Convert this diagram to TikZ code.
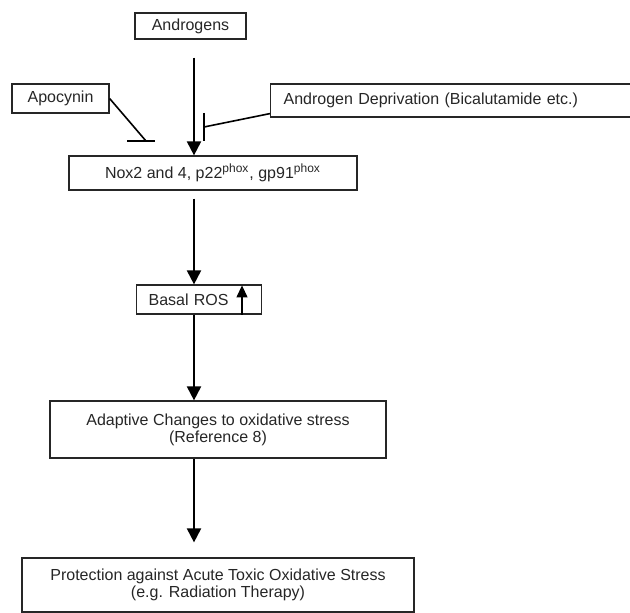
\documentclass[tikz,border=0pt]{standalone}
\usepackage{fontspec}
\setmainfont{Liberation Sans}
\usetikzlibrary{arrows.meta,calc}
\begin{document}
\begin{tikzpicture}[x=0.5pt,y=-0.5pt,
  box/.style={draw=black!85, line width=0.6pt, inner sep=0pt, font=\fontsize{8}{8.5}\selectfont, text=black!85},
  arr/.style={line width=1pt, -{Triangle[width=7pt,length=7pt]}},
  inh/.style={line width=0.8pt},
  uparr/.style={line width=0.6pt, -{Triangle[width=5.5pt,length=6pt]}}
]
\useasboundingbox (0,0) rectangle (630,613);

\node[box, minimum width=55.5pt, minimum height=13pt] (andr) at (190.5,26) {Androgens};
\node[box, minimum width=48.5pt, minimum height=14.5pt] (apo) at (60.5,98.5) {Apocynin};
\node[box, anchor=west, inner xsep=6.5pt, text width=168pt, align=left, minimum height=16.5pt] (dep) at (270,100.5) {Androgen Deprivation (Bicalutamide etc.)};
\node[box, minimum width=144pt, minimum height=17pt] (nox) at (213,173) {Nox2 and 4, p22\textsuperscript{phox}, gp91\textsuperscript{phox}};
\node[box, anchor=west, inner xsep=6pt, text width=50.5pt, align=left, minimum height=14.5pt] (ros) at (136,299.5) {Basal ROS};
\node[box, minimum width=168pt, minimum height=28.5pt, align=center] (adap) at (218,429.5) {Adaptive Changes to oxidative stress\\(Reference 8)};
\node[box, minimum width=196pt, minimum height=27pt, align=center] (prot) at (218,585) {Protection against Acute Toxic Oxidative Stress\\(e.g. Radiation Therapy)};

\coordinate (mx) at (194,0);
\draw[arr, shorten <=9pt] (andr.south -| mx) -- (nox.north -| mx);
\draw[arr, shorten <=4pt] (nox.south -| mx) -- (ros.north -| mx);
\draw[arr] (ros.south -| mx) -- (adap.north -| mx);
\draw[arr, shorten >=7.5pt] (adap.south -| mx) -- (prot.north -| mx);

\coordinate (apoT) at (146,141);
\draw[inh] (apo.east) -- (apoT);
\draw[inh] ([xshift=-9.5pt]apoT) -- ([xshift=4.5pt]apoT);

\coordinate (depT) at (204,127);
\draw[inh] ([yshift=2pt]dep.south west) -- (depT);
\draw[inh] ([yshift=7pt]depT) -- ([yshift=-7pt]depT);

\coordinate (ux) at (242,0);
\draw[uparr, shorten >=0.5pt] (ros.south -| ux) -- (ros.north -| ux);
\end{tikzpicture}
\end{document}
